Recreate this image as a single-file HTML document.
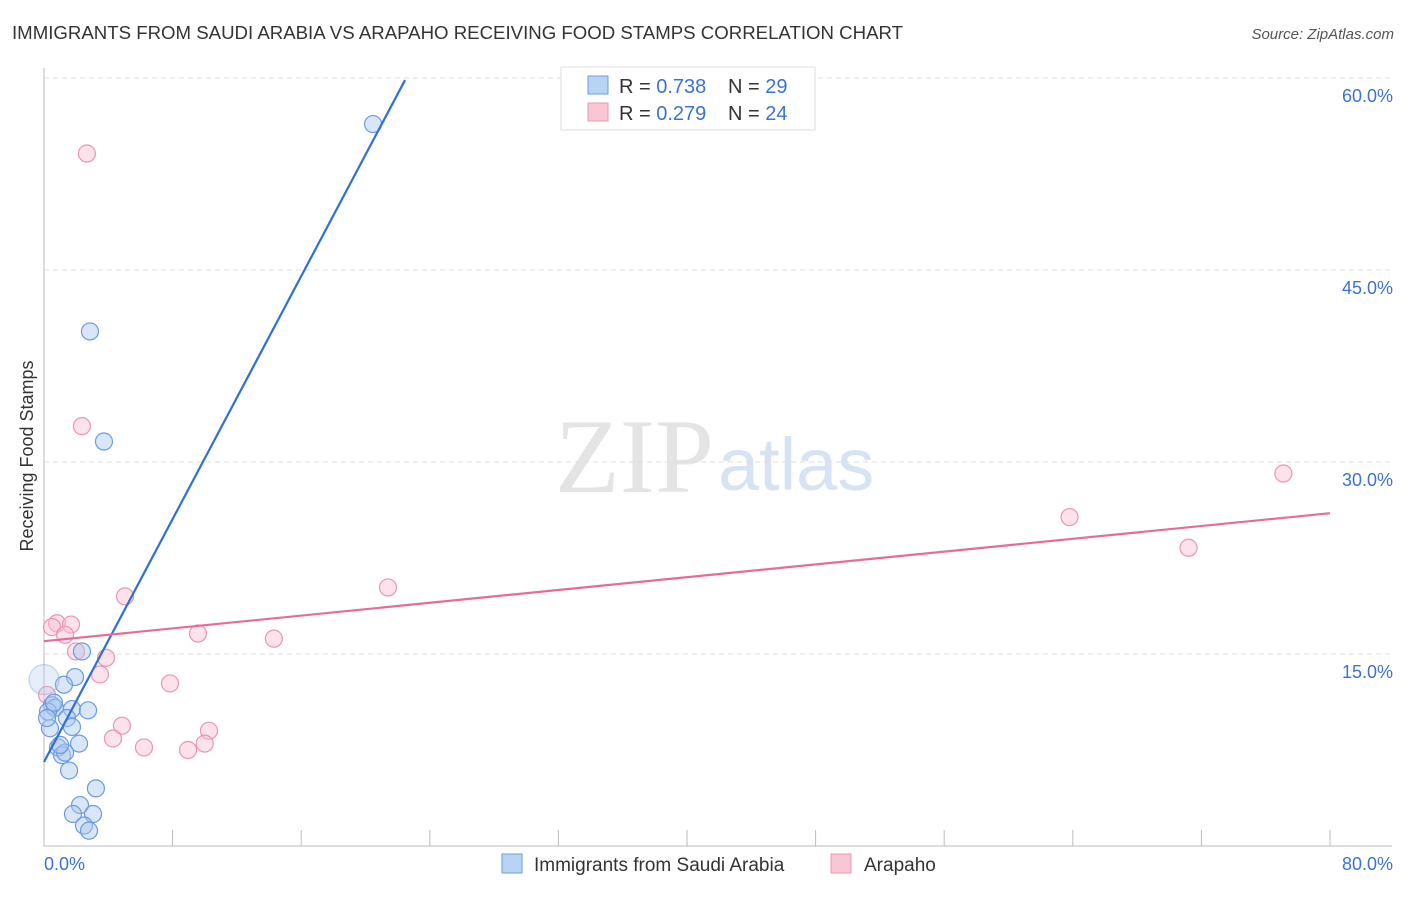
<!DOCTYPE html>
<html><head><meta charset="utf-8"><style>
body{margin:0;background:#fff;font-family:"Liberation Sans",sans-serif}
svg text{font-family:"Liberation Sans",sans-serif}
</style></head><body>
<svg id="c" width="1406" height="892">
<text x="12" y="39" font-size="18" fill="#333" textLength="891" lengthAdjust="spacingAndGlyphs">IMMIGRANTS FROM SAUDI ARABIA VS ARAPAHO RECEIVING FOOD STAMPS CORRELATION CHART</text>
<text x="1394" y="39" font-size="15" fill="#555" font-style="italic" text-anchor="end">Source: ZipAtlas.com</text>
<text x="714" y="492" font-size="106" fill="#e4e4e4" text-anchor="end" style="font-family:'Liberation Serif',serif">ZIP</text>
<text x="718" y="490" font-size="74" fill="#d6e3f5">atlas</text>
<text transform="translate(33,456) rotate(-90)" font-size="18" fill="#333" text-anchor="middle">Receiving Food Stamps</text>
<g id="grid"></g><g id="axes"></g><g id="pts"></g><g id="lines"></g>
<g>
<rect x="561" y="67" width="254" height="63" fill="#fff" stroke="#ddd"/>
<rect x="588" y="76" width="20" height="18" fill="#b9d3f5" stroke="#6a9be0"/>
<rect x="588" y="103" width="20" height="18" fill="#f9c6d6" stroke="#ec94b0"/>
<text x="619" y="93" font-size="20" fill="#333">R = <tspan fill="#3b73d0">0.738</tspan></text>
<text x="728" y="93" font-size="20" fill="#333">N = <tspan fill="#3b73d0">29</tspan></text>
<text x="619" y="120" font-size="20" fill="#333">R = <tspan fill="#3b73d0">0.279</tspan></text>
<text x="728" y="120" font-size="20" fill="#333">N = <tspan fill="#3b73d0">24</tspan></text>
</g>
<g>
<rect x="502" y="854" width="20" height="19" fill="#b9d3f5" stroke="#6a9be0"/>
<text x="534" y="871" font-size="19" fill="#333">Immigrants from Saudi Arabia</text>
<rect x="831" y="854" width="20" height="19" fill="#f9c6d6" stroke="#ec94b0"/>
<text x="864" y="871" font-size="19" fill="#333">Arapaho</text>
</g>
</svg>
<script>
const xTicks=[0,80];
const yTicks=[15,30,45,60];
const blueX=[20.47,2.86,3.73,2.36,1.93,1.24,0.5,0.68,1.74,2.74,1.43,1.74,0.37,2.18,0.87,1.12,1.31,1.56,3.23,2.24,1.8,3.05,2.49,2.8,0,0.25,0.62,1.0,0.19];
const blueY=[56.4,40.2,31.6,15.2,13.2,12.6,11.0,10.8,10.7,10.6,10.0,9.3,9.2,8.0,7.7,7.1,7.3,5.9,4.5,3.2,2.5,2.5,1.6,1.2,13.0,10.5,11.2,7.9,10.0];
const pinkX=[2.67,2.36,77.1,63.8,71.2,21.4,5.04,0.81,1.68,0.5,1.31,9.58,14.3,1.99,3.86,3.48,7.84,4.85,4.29,6.22,10.26,10.0,8.96,0.19];
const pinkY=[54.1,32.8,29.1,25.7,23.3,20.2,19.5,17.4,17.3,17.1,16.5,16.6,16.2,15.2,14.7,13.4,12.7,9.4,8.4,7.7,9.0,8.0,7.5,11.8];
const blueLine=[[0,6.56],[22.46,59.84]];
const pinkLine=[[0,16.0],[80,26.0]];
const NS="http://www.w3.org/2000/svg";
const X=v=>44+v*16.075, Y=v=>846-v*12.8;
function mk(p,t,a){const e=document.createElementNS(NS,t);for(const k in a)e.setAttribute(k,a[k]);document.getElementById(p).appendChild(e);return e;}
yTicks.forEach(t=>{
 const g=mk('grid','line',{x1:44,x2:1392,y1:Y(t),y2:Y(t),stroke:'#ddd','stroke-dasharray':'5,4'});
 
 
 const l=mk('grid','text',{x:1393,y:Y(t)+24,'font-size':18,fill:'#3b73d0','text-anchor':'end'});l.textContent=t.toFixed(1)+'%';
 
 
});
mk('axes','line',{x1:44,x2:44,y1:68,y2:846,stroke:'#bbb'});
mk('axes','line',{x1:44,x2:1392,y1:846,y2:846,stroke:'#bbb'});
for(let i=1;i<=10;i++){const tk=mk('axes','line',{x1:X(i*8),x2:X(i*8),y1:830,y2:846,stroke:'#bbb'});
 
 }
xTicks.forEach((t,i)=>{const l=mk('axes','text',{x:i?1393:44,y:870,'font-size':18,fill:'#3b73d0','text-anchor':i?'end':'start'});l.textContent=t.toFixed(1)+'%';
 
 });
function pts(xs,ys,f,s,n){xs.forEach((x,i)=>{const big=(n==='blue'&&x===0);const c=mk('pts','circle',{cx:X(x),cy:Y(ys[i]),r:big?15:8.5,fill:big?'rgba(170,200,240,0.3)':f,stroke:s,'stroke-width':1.2,'stroke-opacity':big?0.4:1});
 
 });}
pts(pinkX,pinkY,'rgba(249,190,210,0.45)','#ec94b0','pink');
pts(blueX,blueY,'rgba(170,200,240,0.45)','#6a9be0','blue');
function ln(d,c,n){const l=mk('lines','line',{x1:X(d[0][0]),y1:Y(d[0][1]),x2:X(d[1][0]),y2:Y(d[1][1]),stroke:c,'stroke-width':2.2});
 
 }
ln(blueLine,'#2f6fd6','blue-trend-line');
ln(pinkLine,'#e66b95','pink-trend-line');
</script>
</body></html>
